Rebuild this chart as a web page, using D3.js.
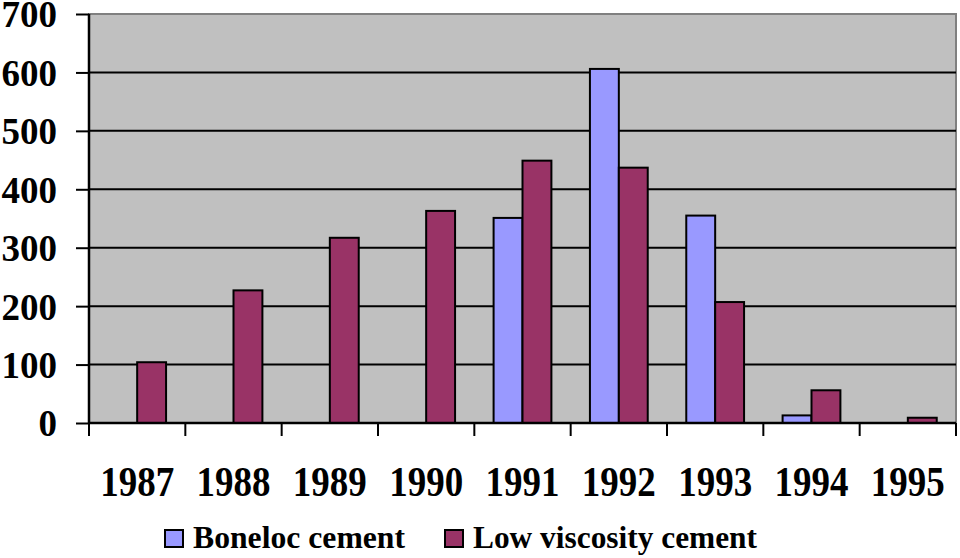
<!DOCTYPE html>
<html><head><meta charset="utf-8">
<script src="https://cdn.jsdelivr.net/npm/d3@7"></script>
<style>body{margin:0;background:#fff}svg{display:block}</style>
</head><body><svg id="c" width="960" height="558"></svg>
<script>
const years = ["1987","1988","1989","1990","1991","1992","1993","1994","1995"];
const boneloc = [0,0,0,0,351,606,355,13,0];
const lowVisc = [104,227,317,363,449,437,207,56,9];
const seriesNames = ["Boneloc cement","Low viscosity cement"];
const seriesColors = ["#9999ff","#993366"];
const yTicks = [0,100,200,300,400,500,600,700];

const svg = d3.select("#c");
const L=89, R=956, T=14, B=423;
const x = d3.scaleBand().domain(years).range([L,R]).paddingInner(0.4).paddingOuter(0.2);
const x1 = d3.scaleBand().domain([0,1]).range([0,x.bandwidth()]);
const y = d3.scaleLinear().domain([0,700]).range([B,T]);
const font = "'Liberation Serif','Times New Roman',serif";

svg.append("rect").attr("x",L).attr("y",T).attr("width",R-L).attr("height",B-T)
  .attr("fill","#c0c0c0").attr("stroke","#808080").attr("stroke-width",2);

svg.append("g").selectAll("line").data(yTicks.slice(1,-1)).join("line")
  .attr("x1",L).attr("x2",R).attr("y1",d=>y(d)).attr("y2",d=>y(d))
  .attr("stroke","#000").attr("stroke-width",2);

const data = years.map((yr,i)=>({yr,vals:[boneloc[i],lowVisc[i]]}));
const g = svg.append("g").selectAll("g").data(data).join("g")
  .attr("transform",d=>`translate(${x(d.yr)},0)`);
g.selectAll("rect").data(d=>d.vals.map((v,k)=>({v,k})).filter(e=>e.v>0)).join("rect")
  .attr("x",e=>x1(e.k)).attr("width",x1.bandwidth())
  .attr("y",e=>y(e.v)).attr("height",e=>B-y(e.v))
  .attr("fill",e=>seriesColors[e.k]).attr("stroke","#000").attr("stroke-width",2);

// y axis
const ya = svg.append("g").attr("transform",`translate(${L},0)`)
  .call(d3.axisLeft(y).tickValues(yTicks).tickSize(13).tickPadding(19).tickFormat(d3.format("d")));
ya.select(".domain").attr("stroke","#000").attr("stroke-width",2.5).attr("d",`M-0,${T}V${B}`);
ya.selectAll(".tick line").attr("stroke","#000").attr("stroke-width",2);
ya.selectAll("text").attr("font-family",font).attr("font-weight","bold").attr("font-size",37)
  .attr("fill","#000").attr("dy","0.35em");

// x axis
const xa = svg.append("g").attr("transform",`translate(0,${B})`)
  .call(d3.axisBottom(x).tickSize(0).tickPadding(0));
xa.select(".domain").attr("stroke","#000").attr("stroke-width",2.5).attr("d",`M${L},0H${R}`);
xa.selectAll(".tick text").attr("font-family",font).attr("font-weight","bold").attr("font-size",37)
  .attr("fill","#000").attr("y",65.2).attr("dy",0).attr("transform","scale(1,1.12)");
const sep = d3.range(years.length+1).map(i=> i<years.length ? x(years[i]) - x.step()*x.paddingOuter() : R);
svg.append("g").selectAll("line").data(sep).join("line")
  .attr("x1",d=>d).attr("x2",d=>d).attr("y1",B).attr("y2",B+13)
  .attr("stroke","#000").attr("stroke-width",2);

// legend
const leg = [{x:165,tx:193,w:212},{x:445,tx:473,w:284}];
const lg = svg.append("g").selectAll("g").data(seriesNames).join("g");
lg.append("rect").attr("x",(d,i)=>leg[i].x).attr("y",530).attr("width",18).attr("height",17)
  .attr("fill",(d,i)=>seriesColors[i]).attr("stroke","#000").attr("stroke-width",2);
lg.append("text").attr("x",(d,i)=>leg[i].tx).attr("y",548).text(d=>d)
  .attr("font-family",font).attr("font-weight","bold").attr("font-size",31)
  .attr("textLength",(d,i)=>leg[i].w).attr("lengthAdjust","spacingAndGlyphs");
</script></body></html>
